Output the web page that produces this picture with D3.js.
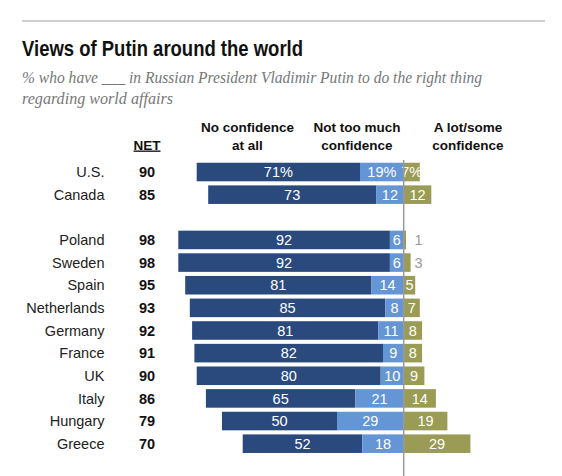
<!DOCTYPE html>
<html><head><meta charset="utf-8">
<script src="https://cdn.jsdelivr.net/npm/d3@7"></script>
<style>
html,body{margin:0;padding:0;background:#fff;}
svg{display:block;}
</style></head>
<body>
<script>
const countries = ["U.S.","Canada","Poland","Sweden","Spain","Netherlands","Germany","France","UK","Italy","Hungary","Greece"];
const net       = [90,85,98,98,95,93,92,91,90,86,79,70];
const noConf    = [71,73,92,92,81,85,81,82,80,65,50,52];
const notMuch   = [19,12,6,6,14,8,11,9,10,21,29,18];
const aLot      = [7,12,1,3,5,7,8,8,9,14,19,29];
const groupBreakAfter = "Canada";
const headers = [["No confidence","at all"],["Not too much","confidence"],["A lot/some","confidence"]];

const W = 562, H = 476;
const SANS = "'Liberation Sans',Arial,sans-serif";
const SERIF = "'Liberation Serif','Times New Roman',serif";
const svg = d3.select("body").append("svg").attr("width", W).attr("height", H)
  .style("font-family", SANS);

const cDark = "#2a4a7d", cLight = "#6495d5", cOlive = "#9a9b55";

// top rule
svg.append("line").attr("x1",22).attr("x2",545).attr("y1",21).attr("y2",21)
  .attr("stroke","#a0a0a0").attr("stroke-width",1.2);

function fitText(sel, w) {
  const n = sel.node();
  const len = n.getComputedTextLength();
  if (len > 0) sel.attr("textLength", w).attr("lengthAdjust", "spacingAndGlyphs");
  return sel;
}

fitText(svg.append("text").attr("x",22).attr("y",56).text("Views of Putin around the world")
  .attr("font-size",21.5).attr("font-weight","bold").attr("fill","#111"), 281);

const sub = svg.append("text").style("font-family", SERIF).style("font-style","italic")
  .attr("font-size",17.5).attr("fill","#777");
fitText(sub.append("tspan").attr("x",22).attr("y",83).text("% who have ___ in Russian President Vladimir Putin to do the right thing"), 460);
fitText(sub.append("tspan").attr("x",22).attr("y",104).text("regarding world affairs"), 151);

// scales
const domain = [];
countries.forEach(c => { domain.push(c); if (c === groupBreakAfter) domain.push("__gap"); });
const y = d3.scaleBand().domain(domain).range([160.7, 455]).paddingInner(0.18).paddingOuter(0.09);
const x = d3.scaleLinear().domain([-100, 100]).range([403.7 - 230, 403.7 + 230]);

const rows = countries.map((c,i)=>({c, net:net[i], a:noConf[i], b:notMuch[i], p:aLot[i], i}));

const g = svg.append("g");
const bh = y.bandwidth();

rows.forEach(r => {
  const yy = y(r.c);
  const segs = [
    {x0: -(r.a + r.b), x1: -r.b, v: r.a, col: cDark},
    {x0: -r.b, x1: 0, v: r.b, col: cLight},
    {x0: 0, x1: r.p, v: r.p, col: cOlive}
  ];
  segs.forEach((s, k) => {
    g.append("rect").attr("x", x(s.x0)).attr("y", yy).attr("width", x(s.x1) - x(s.x0)).attr("height", bh)
      .attr("fill", s.col);
    const lbl = s.v + (r.i === 0 ? "%" : "");
    const small = k === 2 && s.v < 4;
    g.append("text")
      .attr("x", small ? x(6.5) : (x(s.x0) + x(s.x1)) / 2)
      .attr("y", yy + bh / 2).attr("dy", "0.36em")
      .attr("text-anchor", "middle").attr("font-size", 14.5)
      .attr("fill", small ? "#999" : "#fff").text(lbl);
  });
  svg.append("text").attr("x", 104.5).attr("y", yy + bh/2).attr("dy","0.36em")
    .attr("text-anchor","end").attr("font-size",14.5).attr("fill","#222").text(r.c);
  svg.append("text").attr("x", 147).attr("y", yy + bh/2).attr("dy","0.36em")
    .attr("text-anchor","middle").attr("font-size",14.5).attr("font-weight","bold").attr("fill","#111").text(r.net);
});

// zero line
svg.append("line").attr("x1", x(0)).attr("x2", x(0)).attr("y1", 160).attr("y2", H)
  .attr("stroke", "#9a9a9a").attr("stroke-width", 1.5);

// headers
const hx = [247.5, 357, 468];
headers.forEach((h, k) => {
  h.forEach((line, j) => {
    svg.append("text").attr("x", hx[k]).attr("y", 132 + j * 17.5).attr("text-anchor","middle")
      .attr("font-size",13.5).attr("font-weight","bold").attr("fill","#111").text(line);
  });
});
svg.append("text").attr("x",147).attr("y",149.5).attr("text-anchor","middle")
  .attr("font-size",13.5).attr("font-weight","bold").attr("fill","#111")
  .attr("text-decoration","underline").text("NET");
</script>
</body></html>
